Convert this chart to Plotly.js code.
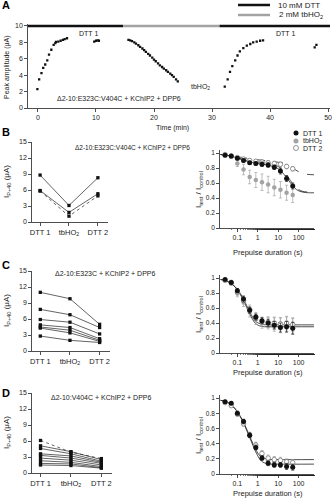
<!DOCTYPE html>
<html><head><meta charset="utf-8">
<script src="https://cdn.plot.ly/plotly-3.0.1.min.js"></script>
<style>html,body{margin:0;padding:0;background:#fff}#chart{width:333px;height:500px}</style>
</head><body><div id="chart"></div>
<script>
// ---------- Panel A data ----------
const condNames = ['10 mM DTT', '2 mM tbHO<sub>2</sub>', '10 mM DTT'];
const condStart = [-1.72, 14.7, 31.3];
const condEnd = [14.7, 31.3, 50.34];
const tDTT1a = [-0.1,0.2,0.6,0.9,1.25,1.6,1.9,2.3,2.7,3.0,3.1,3.5,3.9,4.3,4.6,5.0];
const yDTT1a = [2.3,3.5,4.25,4.9,5.3,5.8,6.5,7.1,7.7,7.9,8.05,8.1,8.2,8.3,8.4,8.5];
const tDTT1b = [9.7,10.0,10.3,10.5];
const yDTT1b = [8.1,8.2,8.25,8.2];
const tOx = [15.6,15.9,16.2,16.6,16.9,17.3,17.6,18.0,18.3,18.6,19.0,19.3,19.7,20.0,20.3,20.7,21.0,21.4,21.7,22.1,22.4,22.8,23.1,23.4,23.8,24.1];
const yOx = [8.3,8.25,8.15,8.0,7.85,7.65,7.45,7.25,7.05,6.85,6.6,6.4,6.15,5.9,5.7,5.45,5.2,5.0,4.8,4.6,4.4,4.2,4.0,3.8,3.5,3.25];
const tDTT2a = [32.2,32.7,33.1,33.5,34.0,34.4,34.8,35.4,36.0,36.6,37.1,37.7,38.3,38.8];
const yDTT2a = [2.6,3.5,4.4,5.1,5.8,6.4,6.9,7.3,7.6,7.8,8.0,8.1,8.2,8.25];
const tDTT2b = [47.7,48.0];
const yDTT2b = [7.4,7.7];

// ---------- Left panels (paired amplitudes) ----------
const conditions = ['DTT 1','tbHO2','DTT 2'];
const conditionLabels = ['DTT 1','tbHO<sub>2</sub>','DTT 2'];
const cellsB = [[8.8,3.1,8.3],[5.9,1.8,5.3],[5.8,1.1,4.9]];
const cellsC = [[11.0,9.8,5.0],[7.8,6.8,4.4],[5.9,5.4,3.2],[4.9,4.4,2.3],[4.5,3.9,2.0],[4.3,3.4,1.8],[2.8,2.0,1.6]];
const cellsD = [[6.1,3.9,2.7],[5.1,4.0,2.5],[4.6,3.6,2.2],[3.6,3.2,2.0],[3.3,2.8,1.8],[2.8,2.4,1.5],[2.3,2.0,1.2],[1.8,1.7,1.0],[1.5,1.4,0.9]];

// ---------- Right panels (inactivation vs prepulse duration) ----------
const prepulse = [0.025,0.05,0.1,0.2,0.4,0.8,1.6,3.2,6.4,12.8,25.6,51.2];
const bDTT1 = [0.97,0.96,0.93,0.90,0.87,0.86,0.85,0.84,0.81,0.76,0.66,0.56];
const bDTT1e = [0.01,0.01,0.02,0.02,0.02,0.02,0.03,0.03,0.03,0.04,0.04,0.04];
const bOx = [0.97,0.95,0.86,0.78,0.68,0.64,0.61,0.58,0.54,0.51,0.47,0.44];
const bOxe = [0.01,0.02,0.04,0.07,0.09,0.10,0.11,0.11,0.11,0.11,0.10,0.10];
const bDTT2 = [0.98,0.96,0.94,0.92,0.90,0.89,0.88,0.87,0.86,0.85,0.82,0.79];
const bDTT2e = [0.01,0.01,0.02,0.02,0.02,0.02,0.03,0.03,0.03,0.03,0.03,0.03];
const cDTT1 = [0.98,0.94,0.83,0.72,0.57,0.48,0.43,0.40,0.37,0.34,0.35,0.33];
const cDTT1e = [0.01,0.02,0.03,0.04,0.04,0.04,0.04,0.05,0.05,0.06,0.07,0.08];
const cOx = [0.97,0.93,0.80,0.68,0.55,0.45,0.40,0.40,0.38,0.37,0.38,0.36];
const cOxe = [0.02,0.03,0.05,0.06,0.07,0.07,0.07,0.08,0.09,0.10,0.10,0.10];
const cDTT2 = [0.97,0.94,0.81,0.70,0.58,0.48,0.42,0.41,0.40,0.39,0.40,0.38];
const cDTT2e = [0.02,0.03,0.04,0.05,0.06,0.06,0.06,0.07,0.08,0.08,0.09,0.09];
const dDTT1 = [0.95,0.93,0.80,0.69,0.51,0.35,0.21,0.14,0.12,0.12,0.10,0.09];
const dDTT1e = [0.01,0.02,0.02,0.03,0.03,0.03,0.03,0.03,0.03,0.03,0.04,0.04];
const dOx = [0.95,0.92,0.80,0.69,0.52,0.37,0.25,0.18,0.16,0.16,0.14,0.13];
const dOxe = [0.01,0.02,0.03,0.03,0.03,0.04,0.04,0.04,0.04,0.04,0.04,0.04];
const dDTT2 = [0.94,0.90,0.79,0.66,0.51,0.38,0.27,0.21,0.19,0.18,0.16,0.15];
const dDTT2e = [0.01,0.02,0.03,0.03,0.03,0.04,0.04,0.04,0.04,0.04,0.04,0.04];

// fitted curves
const fitBx = [0.015,0.05,0.1,0.3,1,3,10,20,40,80,150,300,560];
const fitB1 = [0.98,0.96,0.93,0.89,0.86,0.84,0.79,0.71,0.60,0.51,0.48,0.47,0.47];
const fitB3 = [0.98,0.96,0.94,0.90,0.88,0.86,0.82,0.75,0.63,0.53,0.49,0.48,0.48];
const fitB2x = [0.015,0.1,0.5,2,8,20,50,100,200,560];
const fitB2 = [0.98,0.95,0.92,0.90,0.88,0.86,0.80,0.75,0.72,0.71];
const fitCDx = [0.015,0.03,0.06,0.1,0.2,0.4,0.8,1.5,3,10,560];
const fitC1 = [0.98,0.96,0.91,0.85,0.72,0.55,0.42,0.385,0.375,0.375,0.375];
const fitC2 = [0.98,0.96,0.91,0.84,0.70,0.52,0.39,0.355,0.35,0.35,0.35];
const fitD1 = [0.97,0.95,0.89,0.82,0.68,0.50,0.32,0.22,0.195,0.19,0.19];
const fitD2 = [0.97,0.95,0.89,0.82,0.67,0.48,0.29,0.17,0.135,0.13,0.13];

// ---------- helpers ----------
const W = 333, H = 500;
const FONT = 'Liberation Sans, Arial, sans-serif';
const INK = '#222';
const GRAY = '#a3a3a3';
const px = (a, b) => [a / W, b / W];
const py = (top, bot) => [1 - bot / H, 1 - top / H];
function ax(extra) {
  return Object.assign({showline: true, linecolor: INK, linewidth: 0.8, ticks: 'outside', ticklen: 3,
    tickwidth: 0.8, tickcolor: INK, showgrid: false, zeroline: false,
    tickfont: {size: 7, color: INK, family: FONT}, fixedrange: true}, extra);
}
const traces = [];
// Panel A
const condColors = ['#111', GRAY, '#111'];
for (let i = 0; i < condStart.length; i++) {
  traces.push({x: [condStart[i], condEnd[i]], y: [10, 10], mode: 'lines', xaxis: 'x', yaxis: 'y',
    line: {color: condColors[i], width: 2.5}, hoverinfo: 'skip', name: condNames[i]});
}
[[tDTT1a, yDTT1a], [tDTT1b, yDTT1b], [tOx, yOx], [tDTT2a, yDTT2a], [tDTT2b, yDTT2b]].forEach(s => {
  traces.push({x: s[0], y: s[1], mode: 'markers', xaxis: 'x', yaxis: 'y',
    marker: {symbol: 'square', size: 2.3, color: '#111'}});
});
// Left panels
function pairs(cells, xa, ya, dashIdx) {
  cells.forEach((c, i) => {
    traces.push({x: conditions, y: c, mode: 'lines+markers', xaxis: xa, yaxis: ya,
      line: {color: INK, width: 0.7, dash: dashIdx.includes(i) ? 'dot' : 'solid'},
      marker: {symbol: 'square', size: 3.3, color: '#111'}});
  });
}
pairs(cellsB, 'x2', 'y2', [2]);
pairs(cellsC, 'x4', 'y4', []);
pairs(cellsD, 'x6', 'y6', [0]);
// Right panels
function inact(xa, ya, s1, e1, s2, e2, s3, e3) {
  traces.push({x: prepulse, y: s2, error_y: {type: 'data', array: e2, color: GRAY, thickness: 0.7, width: 1.5},
    mode: 'markers', xaxis: xa, yaxis: ya, marker: {size: 4.5, color: GRAY}});
  traces.push({x: prepulse, y: s3, error_y: {type: 'data', array: e3, color: GRAY, thickness: 0.7, width: 1.5},
    mode: 'markers', xaxis: xa, yaxis: ya, marker: {size: 4.5, color: '#fff', symbol: 'circle', line: {color: '#777', width: 0.8}}});
  traces.push({x: prepulse, y: s1, error_y: {type: 'data', array: e1, color: INK, thickness: 0.7, width: 1.5},
    mode: 'markers', xaxis: xa, yaxis: ya, marker: {size: 5, color: '#111'}});
}
function fit(xa, ya, fx, fy, dash) {
  traces.push({x: fx, y: fy, mode: 'lines', xaxis: xa, yaxis: ya, line: {color: INK, width: 0.8, dash: dash, shape: 'spline'}});
}
fit('x3', 'y3', fitBx, fitB1, 'solid');
fit('x3', 'y3', fitBx, fitB3, 'dash');
fit('x3', 'y3', fitB2x, fitB2, 'dash');
inact('x3', 'y3', bDTT1, bDTT1e, bOx, bOxe, bDTT2, bDTT2e);
fit('x5', 'y5', fitCDx, fitC1, 'solid');
fit('x5', 'y5', fitCDx, fitC2, 'solid');
inact('x5', 'y5', cDTT1, cDTT1e, cOx, cOxe, cDTT2, cDTT2e);
fit('x7', 'y7', fitCDx, fitD1, 'solid');
fit('x7', 'y7', fitCDx, fitD2, 'solid');
inact('x7', 'y7', dDTT1, dDTT1e, dOx, dOxe, dDTT2, dDTT2e);

// ---------- layout ----------
const leftX = (l, r) => ax({type: 'category', domain: px(l, r), range: [-0.28, 2.35],
  tickvals: conditions, ticktext: conditionLabels, tickfont: {size: 7.5, color: INK, family: FONT}});
const leftY = (t, b, anchor) => ax({domain: py(t, b), range: [0, 15], tickvals: [0, 3, 6, 9, 12, 15], anchor: anchor});
const rightX = (anchor) => ax({type: 'log', domain: px(220, 314), range: [-1.85, 2.75], anchor: anchor,
  tickvals: [0.1, 1, 10, 100], ticktext: ['0.1', '1', '10', '100'],
  minor: {ticks: 'outside', ticklen: 1.5, tickcolor: INK, tickwidth: 0.6}});
const rightY = (t, b, anchor) => ax({domain: py(t, b), range: [0, 1.04], anchor: anchor,
  tickvals: [0, 0.2, 0.4, 0.6, 0.8, 1], ticktext: ['0', '0.2', '0.4', '0.6', '0.8', '1'],
  tickfont: {size: 6.5, color: INK, family: FONT}});

const ann = [];
function note(text, x, y, o) {
  ann.push(Object.assign({text: text, xref: 'paper', yref: 'paper', x: x / W, y: 1 - y / H,
    xanchor: 'left', yanchor: 'middle', showarrow: false, font: {size: 7, color: INK, family: FONT}}, o || {}));
}
note('<b>A</b>', 0, 5, {font: {size: 11, color: '#000', family: FONT}});
note('<b>B</b>', 0, 132, {font: {size: 11, color: '#000', family: FONT}});
note('<b>C</b>', 0, 265, {font: {size: 11, color: '#000', family: FONT}});
note('<b>D</b>', 0, 393, {font: {size: 11, color: '#000', family: FONT}});
note(condNames[0], 276, 5, {font: {size: 8, color: INK, family: FONT}});
note(condNames[1], 277, 15, {font: {size: 8, color: INK, family: FONT}});
note('DTT 1', 88, 33, {xanchor: 'center'});
note('DTT 1', 285, 33, {xanchor: 'center'});
note('tbHO<sub>2</sub>', 200, 87, {xanchor: 'center'});
note('Δ2-10:E323C:V404C + KChIP2 + DPP6', 55, 99);
note('Δ2-10:E323C:V404C + KChIP2 + DPP6', 73, 147, {font: {size: 6.5, color: INK, family: FONT}});
note('Δ2-10:E323C + KChIP2 + DPP6', 53, 273);
note('Δ2-10:V404C + KChIP2 + DPP6', 49, 397);
note('Time (min)', 172, 128, {xanchor: 'center'});
note('Peak amplitude (μA)', 7, 67, {xanchor: 'center', textangle: -90});
[182, 311, 433].forEach(y => note('I<sub>P+40</sub> (μA)', 7, y, {xanchor: 'center', textangle: -90, font: {size: 8, color: INK, family: FONT}}));
[190, 315, 436].forEach(y => note('I<sub>test</sub> / I<sub>control</sub>', 199, y, {xanchor: 'center', textangle: -90, font: {size: 8, color: INK, family: FONT}}));
[252, 372, 493].forEach(y => note('Prepulse duration (s)', 268, y, {xanchor: 'center', font: {size: 7.5, color: INK, family: FONT}}));
note('DTT 1', 301, 133);
note('tbHO<sub>2</sub>', 301, 141);
note('DTT 2', 301, 148);

const shapes = [
  {type: 'line', xref: 'paper', yref: 'paper', x0: 238 / W, x1: 270 / W, y0: 1 - 5 / H, y1: 1 - 5 / H, line: {color: '#111', width: 2.5}},
  {type: 'line', xref: 'paper', yref: 'paper', x0: 238 / W, x1: 270 / W, y0: 1 - 15 / H, y1: 1 - 15 / H, line: {color: GRAY, width: 2.5}},
  {type: 'circle', xref: 'paper', yref: 'paper', x0: 293.5 / W, x1: 298.5 / W, y0: 1 - 135.5 / H, y1: 1 - 130.5 / H, fillcolor: '#111', line: {width: 0}},
  {type: 'circle', xref: 'paper', yref: 'paper', x0: 293.5 / W, x1: 298.5 / W, y0: 1 - 143.5 / H, y1: 1 - 138.5 / H, fillcolor: GRAY, line: {width: 0}},
  {type: 'circle', xref: 'paper', yref: 'paper', x0: 293.5 / W, x1: 298.5 / W, y0: 1 - 150.5 / H, y1: 1 - 145.5 / H, fillcolor: '#fff', line: {color: '#777', width: 0.8}}
];

const layout = {
  width: W, height: H, margin: {l: 0, r: 0, t: 0, b: 0}, showlegend: false,
  paper_bgcolor: '#fff', plot_bgcolor: '#fff', font: {family: FONT, size: 7, color: INK},
  xaxis: ax({domain: px(28, 330), range: [-1.72, 50.34], tickvals: [0, 10, 20, 30, 40, 50], anchor: 'y'}),
  yaxis: ax({domain: py(23.5, 108), range: [0, 10.3], tickvals: [0, 2, 4, 6, 8, 10], anchor: 'x'}),
  xaxis2: Object.assign(leftX(32, 108), {anchor: 'y2'}),
  yaxis2: leftY(142, 222, 'x2'),
  xaxis3: rightX('y3'),
  yaxis3: rightY(150, 228, 'x3'),
  xaxis4: Object.assign(leftX(32, 110), {anchor: 'y4'}),
  yaxis4: leftY(271, 351, 'x4'),
  xaxis5: rightX('y5'),
  yaxis5: rightY(275, 353, 'x5'),
  xaxis6: Object.assign(leftX(32, 112), {anchor: 'y6'}),
  yaxis6: leftY(393, 473, 'x6'),
  xaxis7: rightX('y7'),
  yaxis7: rightY(395, 474, 'x7'),
  annotations: ann, shapes: shapes
};
Plotly.newPlot('chart', traces, layout, {staticPlot: true, displayModeBar: false});
</script></body></html>
